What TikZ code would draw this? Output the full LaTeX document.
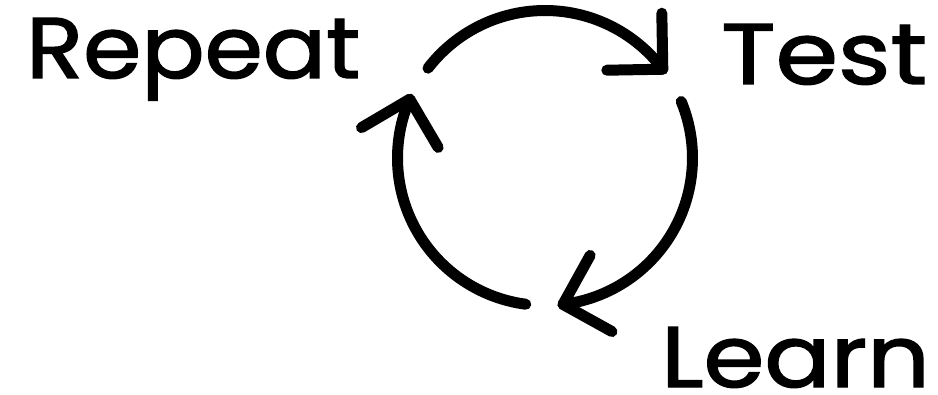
\documentclass[tikz,border=0pt]{standalone}
\usepackage{fontspec}
\newfontfamily\wordfont{Poppins}[FakeBold=1.6]
\usetikzlibrary{calc}
\begin{document}
\begin{tikzpicture}[x=1pt,y=1pt,
  loopline/.style={line width=11pt, line cap=round, line join=round, black},
  word/.style={anchor=base west, inner sep=0pt, font=\wordfont\fontsize{86}{86}\selectfont}]
\useasboundingbox (0,0) rectangle (938,394);
\coordinate (C) at (545,236);
\def\R{147.5}
\def\L{56}
% words
\node[word] (repeat) at (26,316) {\scalebox{1.09}[1]{Repeat}};
\node[word] (test) at (721,310) {\scalebox{1.17}[1]{Test}};
\node[word] (learn) at (661,7) {\scalebox{1.14}[1]{Learn}};
% top arc
\path (C) ++(142.5:\R) coordinate (t0);
\draw[loopline] (t0) arc[start angle=142.5, end angle=37, radius=\R] coordinate (t1);
\path (t1) ++(37+54:\L) coordinate (t1a);
\path (t1) ++(37+144:\L) coordinate (t1b);
\draw[loopline] (t1a) -- (t1) -- (t1b);
% right arc
\path (C) ++(22.5:\R) coordinate (r0);
\draw[loopline] (r0) arc[start angle=22.5, end angle=-83, radius=\R] coordinate (r1);
\path (r1) ++(-83+54:\L) coordinate (r1a);
\path (r1) ++(-83+144:\L) coordinate (r1b);
\draw[loopline] (r1a) -- (r1) -- (r1b);
% left arc
\path (C) ++(-97.5:\R) coordinate (l0);
\draw[loopline] (l0) arc[start angle=-97.5, end angle=-203.5, radius=\R] coordinate (l1);
\path (l1) ++(-203.5+54:\L) coordinate (l1a);
\path (l1) ++(-203.5+144:\L) coordinate (l1b);
\draw[loopline] (l1a) -- (l1) -- (l1b);
\end{tikzpicture}
\end{document}
